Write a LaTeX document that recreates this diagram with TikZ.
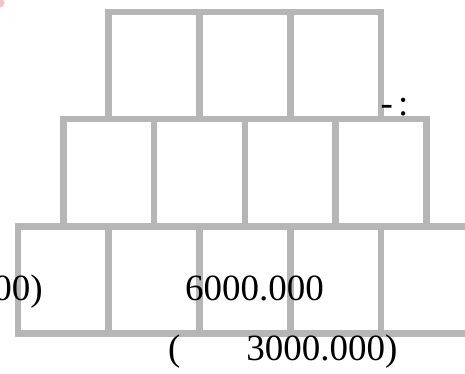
\documentclass[tikz,border=0pt]{standalone}
\usepackage{fontspec}
\setmainfont{Liberation Serif}
\definecolor{boxgray}{RGB}{182,182,182}
\definecolor{blobpink}{RGB}{240,170,170}
\tikzset{
  cell/.style={draw=boxgray, line width=6.5pt, rectangle, inner sep=0pt,
    minimum width=90.8pt, minimum height=107.3pt, anchor=north west},
  label/.style={inner sep=0pt, font=\fontsize{37}{44}\selectfont, text=black}
}
\begin{document}
\begin{tikzpicture}[x=1pt,y=-1pt]
\useasboundingbox (0,0) rectangle (465,373);
\begin{scope}
\clip (0,0) rectangle (465,373);
\fill[blobpink, opacity=0.7] (0,3) circle (4.5);
% row 1
\foreach \i in {0,1,2} {
  \node[cell] (r1c\i) at ({105.4+90.8*\i},8.5) {};
}
% row 2
\foreach \i in {0,1,2,3} {
  \node[cell] (r2c\i) at ({60+90.8*\i},115.8) {};
}
% row 3
\foreach \i in {0,1,2,3,4} {
  \node[cell] (r3c\i) at ({14.6+90.8*\i},223.1) {};
}
\node[label, anchor=base east] (t1) at (43,300) {00)};
\node[label, anchor=base west] (t2) at (185,300) {6000.000};
\node[label, anchor=base west] (t3) at (168,360) {(\hspace{66pt}3000.000)};
\node[label, anchor=base west] (t4) at (380.5,115) {-\kern5pt:};
\end{scope}
\end{tikzpicture}
\end{document}
